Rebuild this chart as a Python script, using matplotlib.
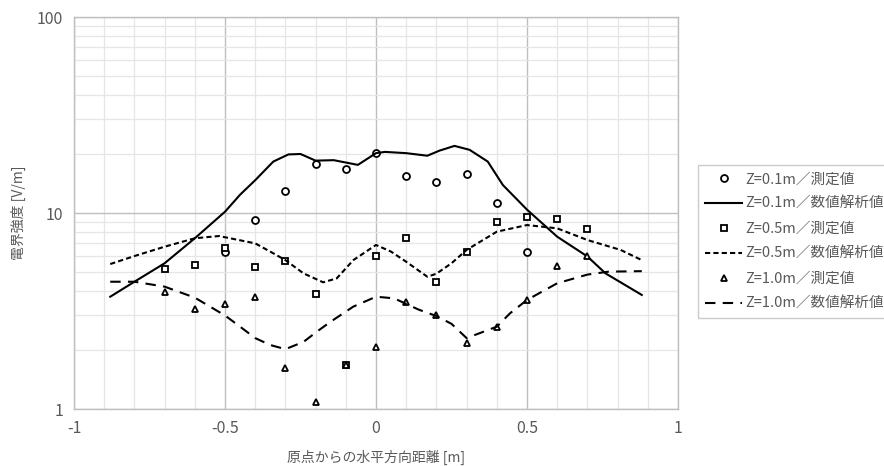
import matplotlib
matplotlib.use("Agg")
import matplotlib.pyplot as plt
from matplotlib.ticker import FixedLocator, LogLocator, NullFormatter, MultipleLocator

plt.rcParams['font.family'] = ['Noto Sans CJK JP', 'DejaVu Sans']

# measured values
x_meas01 = [-0.5, -0.4, -0.3, -0.2, -0.1, 0.0, 0.1, 0.2, 0.3, 0.4, 0.5]
y_meas01 = [6.3, 9.2, 12.9, 17.8, 16.8, 20.2, 15.5, 14.4, 15.8, 11.2, 6.3]

x_meas05 = [-0.7, -0.6, -0.5, -0.4, -0.3, -0.2, -0.1, 0.0, 0.1, 0.2, 0.3, 0.4, 0.5, 0.6, 0.7]
y_meas05 = [5.2, 5.41, 6.6, 5.32, 5.71, 3.88, 1.68, 6.03, 7.45, 4.45, 6.32, 8.97, 9.5, 9.29, 8.32]

x_meas10 = [-0.7, -0.6, -0.5, -0.4, -0.3, -0.2, -0.1, 0.0, 0.1, 0.2, 0.3, 0.4, 0.5, 0.6, 0.7]
y_meas10 = [3.97, 3.24, 3.45, 3.71, 1.61, 1.08, 1.68, 2.07, 3.53, 3.0, 2.16, 2.63, 3.59, 5.37, 6.03]

# analysis curves
x_calc01 = [-0.88, -0.8, -0.7, -0.6, -0.5, -0.45, -0.4, -0.34, -0.29, -0.25, -0.2, -0.14, -0.06,
            0.0, 0.03, 0.1, 0.17, 0.21, 0.26, 0.31, 0.37, 0.42, 0.5, 0.6, 0.7, 0.76, 0.88]
y_calc01 = [3.74, 4.46, 5.54, 7.43, 10.15, 12.4, 14.7, 18.3, 19.9, 20.0, 18.5, 18.6, 17.6,
            20.2, 20.5, 20.2, 19.6, 20.8, 22.0, 21.0, 18.3, 13.9, 10.4, 7.57, 6.0, 4.92, 3.82]

x_calc05 = [-0.88, -0.8, -0.7, -0.6, -0.52, -0.4, -0.35, -0.3, -0.24, -0.175, -0.13, -0.075, 0.0,
            0.05, 0.1, 0.17, 0.2, 0.25, 0.3, 0.4, 0.5, 0.6, 0.7, 0.81, 0.88]
y_calc05 = [5.49, 6.03, 6.73, 7.43, 7.63, 7.0, 6.35, 5.75, 4.92, 4.43, 4.64, 5.75, 6.87,
            6.35, 5.64, 4.73, 4.9, 5.54, 6.48, 8.03, 8.68, 8.35, 7.28, 6.48, 5.75]

x_calc10 = [-0.88, -0.8, -0.7, -0.6, -0.5, -0.45, -0.4, -0.35, -0.3, -0.24, -0.196, -0.15, -0.075,
            0.0, 0.06, 0.14, 0.2, 0.25, 0.3, 0.4, 0.444, 0.5, 0.6, 0.7, 0.77, 0.88]
y_calc10 = [4.46, 4.46, 4.21, 3.70, 3.0, 2.63, 2.3, 2.12, 2.02, 2.2, 2.48, 2.79, 3.33,
            3.74, 3.67, 3.22, 2.98, 2.72, 2.3, 2.63, 3.08, 3.6, 4.38, 4.85, 5.02, 5.05]

labels = ['Z=0.1m／測定値', 'Z=0.1m／数値解析値',
          'Z=0.5m／測定値', 'Z=0.5m／数値解析値',
          'Z=1.0m／測定値', 'Z=1.0m／数値解析値']

x_ticks = [-1, -0.5, 0, 0.5, 1]
x_ticklabels = ['-1', '-0.5', '0', '0.5', '1']
y_ticks = [1, 10, 100]
y_ticklabels = ['1', '10', '100']

fig = plt.figure(figsize=(8.84, 4.66), dpi=100)
ax = fig.add_axes([74/884, 1-409/466, (678-74)/884, (409-17)/466])

ax.set_yscale('log')
ax.set_xlim(-1, 1)
ax.set_ylim(1, 100)

major_c = '#bfbfbf'
minor_c = '#e6e6e6'
ax.xaxis.set_major_locator(FixedLocator(x_ticks))
ax.xaxis.set_minor_locator(MultipleLocator(0.1))
ax.yaxis.set_major_locator(FixedLocator(y_ticks))
ax.yaxis.set_minor_locator(LogLocator(base=10, subs=range(2, 10)))
ax.yaxis.set_minor_formatter(NullFormatter())
ax.set_xticklabels(x_ticklabels)
ax.set_yticklabels(y_ticklabels)
ax.grid(which='major', color=major_c, linewidth=1.0)
ax.grid(which='minor', color=minor_c, linewidth=0.9)
ax.set_axisbelow(True)
ax.tick_params(which='both', length=0, colors='#595959', labelsize=11.5, pad=8)
for s in ax.spines.values():
    s.set_color(major_c)
    s.set_linewidth(1.0)

ms = 5
mew = 1.3
line_kw = dict(color='black', lw=1.5, solid_joinstyle='round', dash_joinstyle='round')
h1, = ax.plot(x_meas01, y_meas01, linestyle='none', marker='o', ms=ms, mfc='white', mec='black', mew=mew, label=labels[0])
h2, = ax.plot(x_calc01, y_calc01, linestyle='-', label=labels[1], **line_kw)
h3, = ax.plot(x_meas05, y_meas05, linestyle='none', marker='s', ms=ms, mfc='white', mec='black', mew=mew, label=labels[2])
h4, = ax.plot(x_calc05, y_calc05, linestyle=(0, (2.5, 1.5)), label=labels[3], **line_kw)
h5, = ax.plot(x_meas10, y_meas10, linestyle='none', marker='^', ms=ms, mfc='white', mec='black', mew=mew, label=labels[4])
h6, = ax.plot(x_calc10, y_calc10, linestyle=(0, (5, 3.5)), label=labels[5], **line_kw)

ax.set_xlabel('原点からの水平方向距離 [m]', color='#595959', fontsize=10, labelpad=9)
ax.set_ylabel('電界強度 [V/m]', color='#595959', fontsize=10, labelpad=8)

leg = fig.legend(handles=[h1, h2, h3, h4, h5, h6], loc='upper left',
                 bbox_to_anchor=(698/884, 1-165/466), frameon=True, fancybox=False,
                 fontsize=10.5, handlelength=2.5, handletextpad=0.25, labelspacing=0.75,
                 borderpad=0.5, borderaxespad=0)
leg.get_frame().set_edgecolor('#bfbfbf')
leg.get_frame().set_linewidth(1.0)
for t in leg.get_texts():
    t.set_color('#595959')

fig.savefig('out.png', dpi=100)
